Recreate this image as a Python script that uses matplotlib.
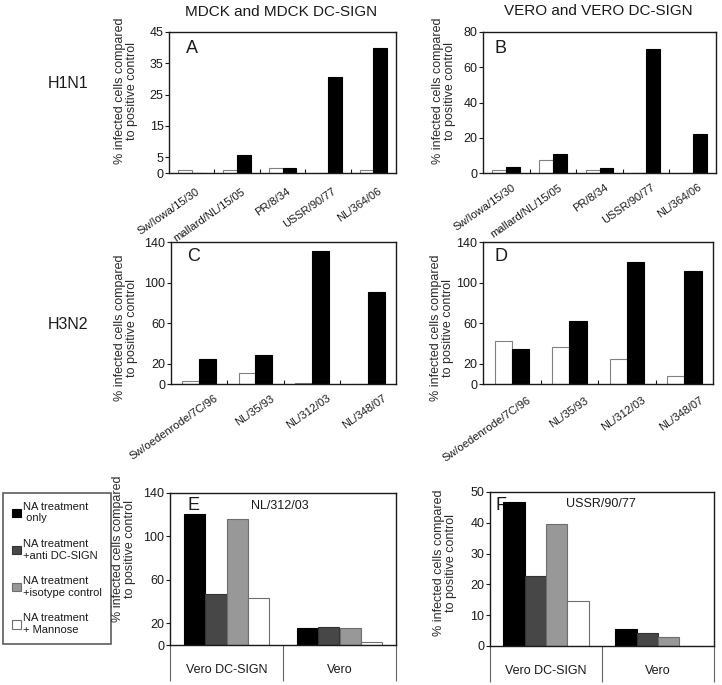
import matplotlib
matplotlib.use('Agg')
import matplotlib.pyplot as plt
from matplotlib.transforms import ScaledTranslation
import numpy as np

plt.rcParams['font.family'] = ['Liberation Sans', 'DejaVu Sans']
plt.rcParams['text.color'] = '#1a1a1a'
plt.rcParams['axes.edgecolor'] = '#1a1a1a'
plt.rcParams['xtick.color'] = '#1a1a1a'
plt.rcParams['ytick.color'] = '#1a1a1a'

# ---------------- data ----------------
h1n1_strains = ['Sw/Iowa/15/30', 'mallard/NL/15/05', 'PR/8/34', 'USSR/90/77', 'NL/364/06']
A_white = [0.9, 1.0, 1.5, 0.0, 1.0]
A_black = [0.0, 5.7, 1.6, 30.7, 39.8]
B_white = [1.5, 7.2, 1.5, 0.0, 0.0]
B_black = [3.4, 10.8, 2.7, 70.5, 22.0]

h3n2_strains = ['Sw/oedenrode/7C/96', 'NL/35/93', 'NL/312/03', 'NL/348/07']
C_white = [3.0, 10.5, 0.5, 0.0]
C_black = [25.0, 28.6, 131.4, 91.0]
D_white = [42.4, 36.5, 24.3, 7.9]
D_black = [34.8, 62.0, 120.0, 111.0]

cell_groups = ['Vero DC-SIGN', 'Vero']
E_only = [120.3, 15.3]
E_anti = [47.0, 16.9]
E_iso = [116.3, 15.3]
E_mann = [43.4, 2.8]
F_only = [46.7, 5.6]
F_anti = [22.7, 4.2]
F_iso = [39.6, 2.9]
F_mann = [14.5, 0.0]

treatments = ['NA treatment\n only', 'NA treatment\n+anti DC-SIGN',
              'NA treatment\n+isotype control', 'NA treatment\n+ Mannose']
treat_colors = ['#000000', '#474747', '#989898', '#ffffff']
treat_edges = ['#000000', '#333333', '#6e6e6e', '#6e6e6e']

A_yticks = [0, 5, 15, 25, 35, 45]
B_yticks = [0, 20, 40, 60, 80]
CD_yticks = [0, 20, 60, 100, 140]
E_yticks = [0, 20, 60, 100, 140]
F_yticks = [0, 10, 20, 30, 40, 50]

# ---------------- figure ----------------
W, H = 722, 685
fig = plt.figure(figsize=(W / 100, H / 100), dpi=100)


def axes_px(l, t, r, b):
    return fig.add_axes([l / W, 1 - b / H, (r - l) / W, (b - t) / H])


def pair_panel(ax, cats, white, black, ymax, yticks, letter, lx, ly, dx, dy):
    x = np.arange(len(cats))
    ax.bar(x - 0.15, white, 0.3, color='white', edgecolor='#808080', lw=0.8)
    ax.bar(x + 0.15, black, 0.3, color='black', edgecolor='black', lw=0.8)
    ax.set_xlim(-0.5, len(cats) - 0.5)
    ax.set_ylim(0, ymax)
    ax.set_yticks(yticks)
    ax.set_xticks(x)
    ax.set_xticklabels(cats, rotation=35, ha='right', rotation_mode='anchor', fontsize=8)
    ax.set_xticks(x[:-1] + 0.5, minor=True)
    ax.tick_params(axis='x', which='major', length=0, pad=1)
    ax.tick_params(axis='x', which='minor', length=3, direction='in', width=0.8)
    ax.tick_params(axis='y', length=3, width=0.8, labelsize=9, pad=1)
    off = ScaledTranslation(dx / 100, -dy / 100, fig.dpi_scale_trans)
    for lab in ax.get_xticklabels():
        lab.set_transform(lab.get_transform() + off)
    for s in ax.spines.values():
        s.set_linewidth(1.0)
    ax.text(lx, ly, letter, transform=ax.transAxes, fontsize=13, ha='center', va='center', zorder=0.5)


def treat_panel(ax, groups, series, ymax, yticks, letter, lx, ly, title, tx, ty):
    x = np.arange(len(groups))
    w = 0.19
    offs = [-1.5 * w, -0.5 * w, 0.5 * w, 1.5 * w]
    handles = []
    for vals, c, e, o, lab in zip(series, treat_colors, treat_edges, offs, treatments):
        h = ax.bar(x + o, vals, w, color=c, edgecolor=e, lw=0.8, label=lab)
        handles.append(h)
    ax.set_xlim(-0.5, len(groups) - 0.5)
    ax.set_ylim(0, ymax)
    ax.set_yticks(yticks)
    ax.set_xticks([-0.5, 0.5, 1.5])
    ax.set_xticklabels(['', '', ''])
    ax.tick_params(axis='x', which='major', length=26, width=0.8, color='#666666')
    ax.set_xticks(x, minor=True)
    ax.set_xticklabels(groups, minor=True, fontsize=9)
    ax.tick_params(axis='x', which='minor', length=0, pad=14)
    ax.tick_params(axis='y', length=3, width=0.8, labelsize=9, pad=1)
    for s in ax.spines.values():
        s.set_linewidth(1.0)
    ax.text(lx, ly, letter, transform=ax.transAxes, fontsize=13, ha='center', va='center', zorder=0.5)
    ax.text(tx, ty, title, transform=ax.transAxes, fontsize=9, ha='center', va='center')
    return handles


axA = axes_px(169, 32, 396, 173)
pair_panel(axA, h1n1_strains, A_white, A_black, 45, A_yticks, 'A', 0.10, 0.88, 4, 12)
axB = axes_px(483, 32, 716, 173)
pair_panel(axB, h1n1_strains, B_white, B_black, 80, B_yticks, 'B', 0.075, 0.885, 5, 8)
axC = axes_px(171, 242, 396, 384)
pair_panel(axC, h3n2_strains, C_white, C_black, 140, CD_yticks, 'C', 0.10, 0.895, 15, 8)
axD = axes_px(483, 242, 713, 384)
pair_panel(axD, h3n2_strains, D_white, D_black, 140, CD_yticks, 'D', 0.078, 0.895, 15, 10)

axE = axes_px(170, 493, 396, 645)
handles = treat_panel(axE, cell_groups, [E_only, E_anti, E_iso, E_mann], 140, E_yticks,
                      'E', 0.104, 0.92, 'NL/312/03', 0.487, 0.912)
axF = axes_px(490, 492, 714, 646)
treat_panel(axF, cell_groups, [F_only, F_anti, F_iso, F_mann], 50, F_yticks,
            'F', 0.047, 0.91, 'USSR/90/77', 0.496, 0.923)

# column / row headers
fig.text(281 / W, 1 - 12 / H, 'MDCK and MDCK DC-SIGN', fontsize=11, ha='center', va='center')
fig.text(598 / W, 1 - 11 / H, 'VERO and VERO DC-SIGN', fontsize=11, ha='center', va='center')
fig.text(68 / W, 1 - 83 / H, 'H1N1', fontsize=11.5, ha='center', va='center')
fig.text(68 / W, 1 - 324 / H, 'H3N2', fontsize=11.5, ha='center', va='center')

ylab = '% infected cells compared\nto positive control'
for (x, y) in [(126, 91), (444, 91), (126, 328), (442, 328), (124, 549), (445, 563)]:
    fig.text(x / W, 1 - y / H, ylab, fontsize=9, rotation=90, ha='center', va='center',
             multialignment='center', color='#2a2a2a', linespacing=1.1)

leg = fig.legend(handles=handles, labels=treatments, loc='upper left',
                 bbox_to_anchor=(3 / W, 1 - 493 / H), bbox_transform=fig.transFigure,
                 fontsize=8, frameon=True, fancybox=False, edgecolor='#333333',
                 handlelength=0.8, handleheight=0.8, handletextpad=0.2,
                 labelspacing=1.4, borderpad=0.8, borderaxespad=0)
leg.get_frame().set_linewidth(1.2)

fig.savefig('out.png', dpi=100)
